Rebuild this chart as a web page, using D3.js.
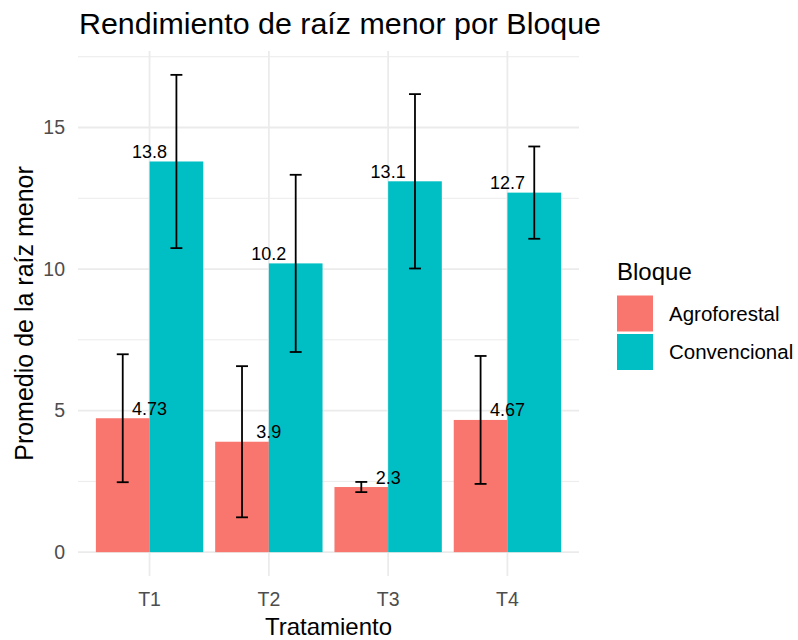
<!DOCTYPE html>
<html>
<head>
<meta charset="utf-8">
<script src="https://cdn.jsdelivr.net/npm/d3@7"></script>
<style>
  body { margin: 0; background: #fff; }
  text { font-family: "Liberation Sans", Arial, sans-serif; }
</style>
</head>
<body>
<div id="chart"></div>
<script>
// Data
const treatments = ["T1", "T2", "T3", "T4"];
const groups = ["Agroforestal", "Convencional"];
const agroMean = [4.73, 3.9, 2.3, 4.67];
const agroSd = [2.26, 2.67, 0.18, 2.26];
const convMean = [13.8, 10.2, 13.1, 12.7];
const convSd = [3.06, 3.13, 3.08, 1.63];
const yTicks = [0, 5, 10, 15];
const yMinor = [2.5, 7.5, 12.5, 17.5];
const colors = ["#F8766D", "#00BFC4"];

const width = 798;
const height = 640;
const panel = { left: 78, right: 579, top: 51, bottom: 576 };

const svg = d3.select("#chart")
  .append("svg")
  .attr("width", width)
  .attr("height", height);

// one row per bar
const rows = [];
treatments.forEach((t, i) => {
  rows.push({ t, g: groups[0], mean: agroMean[i], sd: agroSd[i] });
  rows.push({ t, g: groups[1], mean: convMean[i], sd: convSd[i] });
});

// ggplot style 5% expansion of the y range
const yMax = d3.max(rows, d => d.mean + d.sd);
const pad = yMax * 0.05;
const y = d3.scaleLinear()
  .domain([-pad, yMax + pad])
  .range([panel.bottom, panel.top]);

const x = d3.scalePoint()
  .domain(treatments)
  .range([panel.left, panel.right])
  .padding(0.6);
const step = x.step();

const xInner = d3.scaleBand()
  .domain(groups)
  .range([-0.45 * step, 0.45 * step]);

const color = d3.scaleOrdinal().domain(groups).range(colors);

// grid lines
svg.selectAll(".minor")
  .data(yMinor)
  .enter()
  .append("line")
  .attr("x1", panel.left)
  .attr("x2", panel.right)
  .attr("y1", d => y(d))
  .attr("y2", d => y(d))
  .attr("stroke", "#EBEBEB")
  .attr("stroke-width", 1);

svg.selectAll(".major")
  .data(yTicks)
  .enter()
  .append("line")
  .attr("x1", panel.left)
  .attr("x2", panel.right)
  .attr("y1", d => y(d))
  .attr("y2", d => y(d))
  .attr("stroke", "#EBEBEB")
  .attr("stroke-width", 1.8);

svg.selectAll(".vgrid")
  .data(treatments)
  .enter()
  .append("line")
  .attr("x1", d => x(d))
  .attr("x2", d => x(d))
  .attr("y1", panel.top)
  .attr("y2", panel.bottom)
  .attr("stroke", "#EBEBEB")
  .attr("stroke-width", 1.8);

// bars
svg.selectAll(".bar")
  .data(rows)
  .enter()
  .append("rect")
  .attr("x", d => x(d.t) + xInner(d.g))
  .attr("y", d => y(d.mean))
  .attr("width", xInner.bandwidth())
  .attr("height", d => y(0) - y(d.mean))
  .attr("fill", d => color(d.g));

// error bars
const capHalf = 0.05 * step;
const cx = d => x(d.t) + xInner(d.g) + xInner.bandwidth() / 2;
const eb = svg.selectAll(".eb")
  .data(rows)
  .enter()
  .append("g")
  .attr("stroke", "#000")
  .attr("stroke-width", 1.8);

eb.append("line")
  .attr("x1", cx)
  .attr("x2", cx)
  .attr("y1", d => y(d.mean + d.sd))
  .attr("y2", d => y(d.mean - d.sd));

eb.append("line")
  .attr("x1", d => cx(d) - capHalf)
  .attr("x2", d => cx(d) + capHalf)
  .attr("y1", d => y(d.mean + d.sd))
  .attr("y2", d => y(d.mean + d.sd));

eb.append("line")
  .attr("x1", d => cx(d) - capHalf)
  .attr("x2", d => cx(d) + capHalf)
  .attr("y1", d => y(d.mean - d.sd))
  .attr("y2", d => y(d.mean - d.sd));

// value labels (not dodged, centred on the treatment)
svg.selectAll(".lab")
  .data(rows)
  .enter()
  .append("text")
  .attr("x", d => x(d.t))
  .attr("y", d => y(d.mean) - 3.5)
  .attr("text-anchor", "middle")
  .attr("font-size", "18px")
  .attr("fill", "#000")
  .text(d => d.mean);

// y tick labels
svg.selectAll(".ytick")
  .data(yTicks)
  .enter()
  .append("text")
  .attr("x", 65)
  .attr("y", d => y(d))
  .attr("dy", "0.35em")
  .attr("text-anchor", "end")
  .attr("font-size", "19.5px")
  .attr("fill", "#4D4D4D")
  .text(d => d);

// x tick labels
svg.selectAll(".xtick")
  .data(treatments)
  .enter()
  .append("text")
  .attr("x", d => x(d))
  .attr("y", 606)
  .attr("text-anchor", "middle")
  .attr("font-size", "19.5px")
  .attr("fill", "#4D4D4D")
  .text(d => d);

// axis titles
svg.append("text")
  .attr("x", (panel.left + panel.right) / 2)
  .attr("y", 635)
  .attr("text-anchor", "middle")
  .attr("font-size", "24px")
  .text("Tratamiento");

svg.append("text")
  .attr("transform", `translate(33,${(panel.top + panel.bottom) / 2}) rotate(-90)`)
  .attr("text-anchor", "middle")
  .attr("font-size", "25px")
  .text("Promedio de la raíz menor");

// title
svg.append("text")
  .attr("x", panel.left + 1)
  .attr("y", 34)
  .attr("font-size", "30.4px")
  .text("Rendimiento de raíz menor por Bloque");

// legend
const legend = svg.append("g").attr("transform", "translate(617,0)");
legend.append("text")
  .attr("x", 0)
  .attr("y", 280)
  .attr("font-size", "24px")
  .text("Bloque");

const items = legend.selectAll(".item")
  .data(groups)
  .enter()
  .append("g")
  .attr("transform", (d, i) => `translate(0,${295.5 + i * 38.5})`);

items.append("rect")
  .attr("width", 36)
  .attr("height", 36)
  .attr("fill", d => color(d));

items.append("text")
  .attr("x", 52)
  .attr("y", 18)
  .attr("dy", "0.35em")
  .attr("font-size", "20.5px")
  .text(d => d);
</script>
</body>
</html>
